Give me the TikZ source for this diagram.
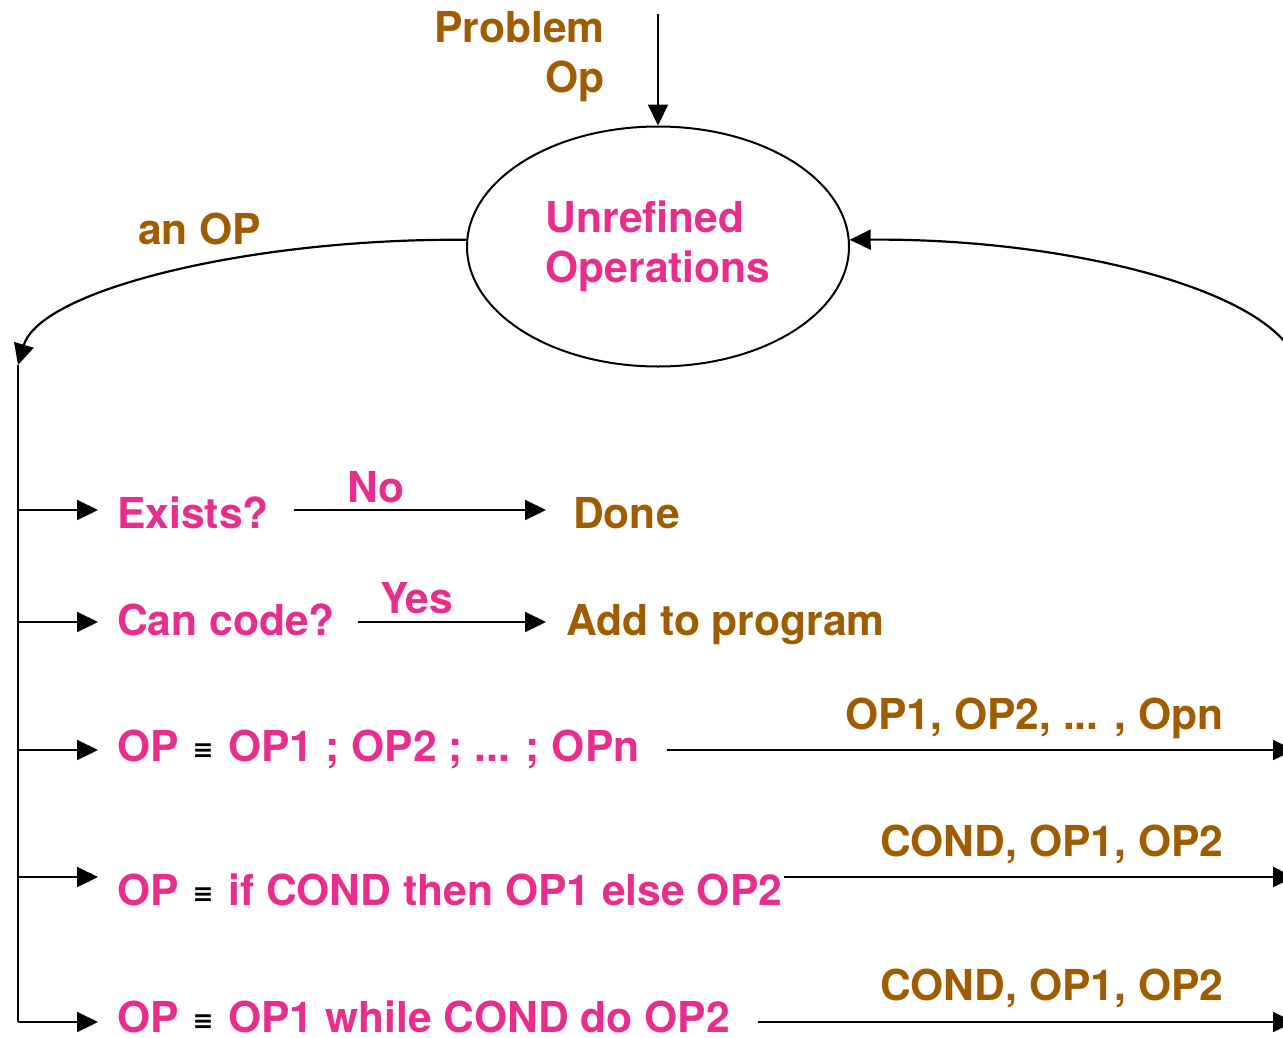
\documentclass[tikz,border=0pt]{standalone}
\usepackage{fontspec}
\setmainfont{TeX Gyre Heros}
\newfontfamily\eqvfont{DejaVu Sans}
\usetikzlibrary{arrows.meta,shapes.geometric}
\definecolor{pinkc}{RGB}{232,46,140}
\definecolor{brownc}{RGB}{160,92,0}
% small black identity sign used in the rule lines
\newcommand\eqv{\hspace{2pt}{\color{black}\eqvfont\bfseries\fontsize{25}{25}\selectfont\raisebox{3pt}{≡}}\hspace{3pt}}
\tikzset{
  lbl/.style={inner sep=0pt, anchor=base west, font=\fontsize{42.6}{50}\selectfont\bfseries},
  pinktxt/.style={lbl, text=pinkc},
  browntxt/.style={lbl, text=brownc},
  arr/.style={line width=2.2pt, -{Triangle[length=21pt,width=20pt]}},
  plain/.style={line width=2.2pt}
}
\begin{document}
\begin{tikzpicture}[x=1pt,y=-1pt]
\useasboundingbox (0,0) rectangle (1283,1037);

% central store of operations
\node[draw, ellipse, line width=2pt, minimum width=382pt, minimum height=240pt,
      inner sep=0pt, align=left, text=pinkc,
      font=\fontsize{42.6}{50}\selectfont\bfseries] (unref) at (658,246.5)
      {Unrefined\\Operations};

% incoming problem
\node[browntxt, anchor=base east] (prob1) at (605,42) {Problem};
\node[browntxt, anchor=base east] (prob2) at (605,92) {Op};
\coordinate (src) at (658,14);
\draw[arr] (src) -- (unref.north);

% pick an operation
\node[browntxt] (anop) at (138,244) {an OP};
\coordinate (top) at (18,365);
\draw[arr] (unref.178) .. controls (250,238) and (40,290) .. (top);

% results fed back
\coordinate (rin) at (1298,365);
\draw[arr] (rin) .. controls (1276,290) and (1066,238) .. (unref.2);

% trunk and branch points
\coordinate (b1) at (18,510);
\coordinate (b2) at (18,622);
\coordinate (b3) at (18,750);
\coordinate (b4) at (18,877);
\coordinate (b5) at (18,1022);
\draw[plain] (top) -- (b5);

% the five cases
\node[pinktxt] (exists) at (117,528) {Exists?};
\node[pinktxt] (cancode) at (117,635) {Can code?};
\node[pinktxt] (seq) at (117,761) {OP \eqv{} OP1 ; OP2 ; ... ; OPn};
\node[pinktxt] (ifte) at (117,905) {OP \eqv{} if COND then OP1 else OP2};
\node[pinktxt] (while) at (117,1032) {OP \eqv{} OP1 while COND do OP2};

\draw[arr, shorten >=19pt] (b1) -- (b1 -| exists.west);
\draw[arr, shorten >=19pt] (b2) -- (b2 -| cancode.west);
\draw[arr, shorten >=19pt] (b3) -- (b3 -| seq.west);
\draw[arr, shorten >=19pt] (b4) -- (b4 -| ifte.west);
\draw[arr, shorten >=19pt] (b5) -- (b5 -| while.west);

% outcomes
\node[browntxt] (done) at (573,528) {Done};
\node[browntxt] (addprog) at (566,635) {Add to program};
\node[pinktxt] (no) at (347,502) {No};
\node[pinktxt] (yes) at (380,613) {Yes};
\draw[arr, shorten <=25pt, shorten >=27pt] (exists.east |- b1) -- (done.west |- b1);
\draw[arr, shorten <=23pt, shorten >=20pt] (cancode.east |- b2) -- (addprog.west |- b2);

% sub-operations sent back
\coordinate (r3) at (1294,750);
\coordinate (r4) at (1294,877);
\coordinate (r5) at (1294,1022);
\node[browntxt] (subs3) at (845,729) {OP1, OP2, ... , Opn};
\node[browntxt] (subs4) at (880,856) {COND, OP1, OP2};
\node[browntxt] (subs5) at (880,1000) {COND, OP1, OP2};
\draw[arr, shorten <=27pt] (seq.east |- r3) -- (r3);
\draw[arr, shorten <=2pt] (ifte.east |- r4) -- (r4);
\draw[arr, shorten <=28pt] (while.east |- r5) -- (r5);
\end{tikzpicture}
\end{document}
